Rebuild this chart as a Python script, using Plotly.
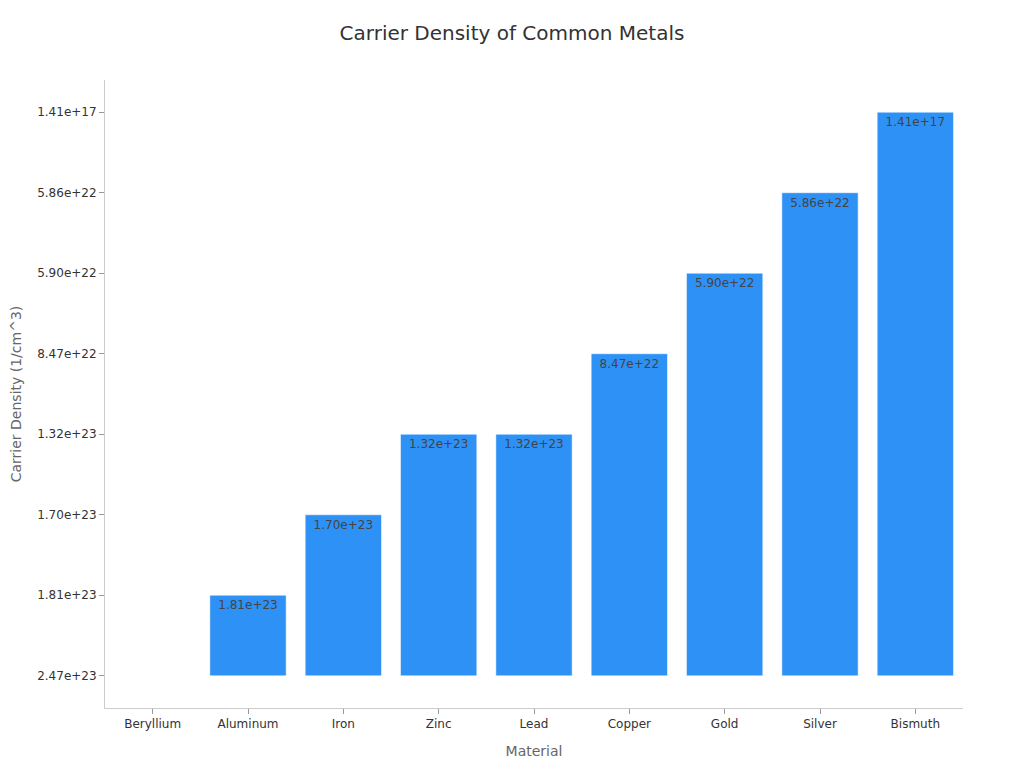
import plotly.graph_objects as go

materials = ["Beryllium", "Aluminum", "Iron", "Zinc", "Lead", "Copper", "Gold", "Silver", "Bismuth"]
density_labels = ["2.47e+23", "1.81e+23", "1.70e+23", "1.32e+23", "1.32e+23",
                  "8.47e+22", "5.90e+22", "5.86e+22", "1.41e+17"]

fig = go.Figure()
fig.add_trace(go.Bar(
    x=materials, y=density_labels, text=density_labels,
    textposition="inside", insidetextanchor="end",
    textfont=dict(size=12, color="#444"),
    marker=dict(color="#2E91F5", line=dict(color="rgba(255,255,255,0.5)", width=1)),
))

fig.update_layout(
    title=dict(text="Carrier Density of Common Metals", x=0.5, xanchor="center",
               y=0.967, yanchor="middle", font=dict(size=20, color="#333")),
    font=dict(family="DejaVu Sans", color="#333"),
    plot_bgcolor="white", paper_bgcolor="white",
    width=1008, height=752,
    margin=dict(l=97, r=53, t=72, b=52),
    bargap=0.2, showlegend=False,
)
fig.update_xaxes(title=dict(text="Material", font=dict(size=14, color="#666"), standoff=15),
                 automargin=False,
                 showline=True, linecolor="#ccc", linewidth=1, showgrid=False,
                 ticks="outside", tickcolor="#999", ticklen=5, tickfont=dict(size=12, color="#333"))
fig.update_yaxes(type="category", range=[-0.4, 7.4], automargin=False,
                 title=dict(text="Carrier Density (1/cm^3)", font=dict(size=14, color="#666")),
                 showline=True, linecolor="#ccc", linewidth=1, showgrid=False, zeroline=False,
                 ticks="outside", tickcolor="#999", ticklen=5, tickfont=dict(size=12, color="#333"))

fig.write_html("out.html")
